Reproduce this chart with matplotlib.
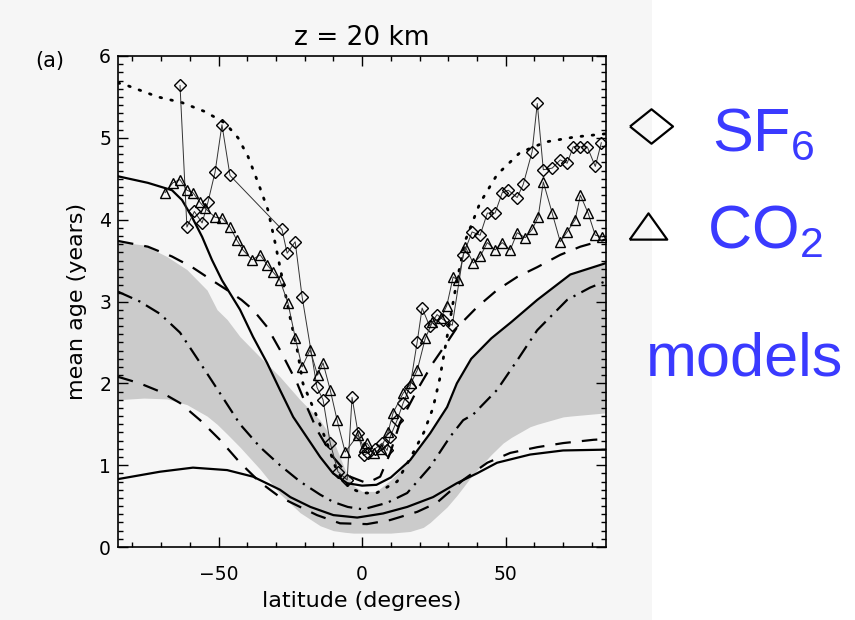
import numpy as np
import matplotlib
matplotlib.use("Agg")
import matplotlib.pyplot as plt
from matplotlib.ticker import MultipleLocator
from matplotlib.lines import Line2D
from matplotlib.patches import Rectangle

# model curves (latitude, mean age in years)
dot_lat = [-85, -82.6, -71.1, -62.7, -54.7, -47.7, -43.2, -39.7, -36.2, -32.8, -30.3, -27.9,
           -25.1, -22.6, -20.6, -15.7, -12.2, -8.7, -4.2, 0, 5, 12.2, 17, 21.5, 24.7, 27,
           29, 31, 33, 36, 41, 47, 55, 64, 74, 85]
dot_age = [5.67, 5.65, 5.50, 5.43, 5.32, 5.18, 5.00, 4.77, 4.45, 4.12, 3.72, 3.30,
           2.81, 2.41, 2.00, 1.59, 1.27, 0.92, 0.72, 0.66, 0.66, 0.80, 1.10, 1.40, 1.70, 2.05,
           2.45, 2.85, 3.25, 3.75, 4.20, 4.55, 4.82, 4.95, 5.01, 5.05]

solid1_lat = [-85, -74.6, -66.2, -62.7, -59.2, -55.7, -52.3, -48.8, -45.3, -42.5, -38, -33.1,
              -28.6, -24, -19.2, -14.6, -10.1, -5.2, 0, 5, 10, 16.7, 23.7, 29.6, 33, 38,
              45, 52, 61, 72.5, 85]
solid1_age = [4.53, 4.45, 4.36, 4.24, 4.03, 3.79, 3.51, 3.26, 3.06, 2.90, 2.57, 2.25,
              1.92, 1.59, 1.34, 1.10, 0.90, 0.78, 0.75, 0.76, 0.85, 1.06, 1.39, 1.71, 2.00, 2.30,
              2.55, 2.75, 3.02, 3.33, 3.47]

dash1_lat = [-85, -74.6, -66.2, -59.2, -52.3, -47, -42, -38, -33.1, -28.6, -22.6, -19.2,
             -15.7, -10.1, -4.2, 1.7, 6.3, 9.8, 13.2, 19.2, 24.7, 29.6, 33, 40, 47, 54,
             61, 69, 76, 85]
dash1_age = [3.74, 3.67, 3.55, 3.42, 3.26, 3.14, 3.02, 2.90, 2.69, 2.41, 2.00, 1.71,
             1.43, 1.10, 0.86, 0.78, 0.86, 1.15, 1.52, 1.92, 2.25, 2.50, 2.68, 2.93, 3.14, 3.30,
             3.42, 3.57, 3.67, 3.76]

dashdot_lat = [-85, -77.4, -70.4, -63.4, -56.4, -49.5, -42.5, -35.5, -28.6, -21.6, -14.6, -10,
               -5, 0.3, 8.7, 15.7, 23.7, 30.7, 35.2, 38.7, 47, 54, 61, 71.4, 79.4, 85]
dashdot_age = [3.12, 3.00, 2.85, 2.62, 2.25, 1.88, 1.50, 1.22, 1.00, 0.80, 0.64, 0.55,
               0.49, 0.46, 0.54, 0.66, 0.98, 1.35, 1.55, 1.62, 1.92, 2.28, 2.65, 3.02, 3.17, 3.25]

dash2_lat = [-85, -77.4, -70.4, -63.4, -56.4, -49.5, -42.5, -35.5, -28.6, -21.6, -15.7, -7.7,
             1.7, 9.8, 19.2, 26, 35.2, 43.6, 51.6, 61, 70, 80.5, 85]
dash2_age = [2.08, 2.00, 1.90, 1.76, 1.55, 1.31, 1.03, 0.79, 0.61, 0.49, 0.39, 0.29,
             0.28, 0.33, 0.43, 0.54, 0.82, 1.03, 1.15, 1.22, 1.27, 1.31, 1.32]

solid2_lat = [-85, -70.4, -58.9, -47, -38, -28.6, -25, -18, -10, -1.7, 7.3, 15.7,
              24.7, 33, 40, 47, 58.5, 70, 85]
solid2_age = [0.83, 0.92, 0.97, 0.94, 0.86, 0.70, 0.61, 0.49, 0.39, 0.36, 0.41, 0.49,
              0.61, 0.78, 0.90, 1.03, 1.13, 1.18, 1.19]

# grey model spread
band_lat = [-85, -76, -68, -61, -54, -50.5, -47, -42.5, -35.5, -28.6, -21.6, -14.6, -10, -6,
            -3, 0, 5, 10, 16.7, 21.3, 23.7, 29.6, 33, 35.2, 38, 41.1, 45, 49.1, 52, 58.5,
            61, 70, 72.5, 85]
band_lo = [1.80, 1.82, 1.81, 1.74, 1.60, 1.50, 1.38, 1.22, 0.95, 0.65, 0.42, 0.26, 0.20, 0.18,
           0.17, 0.17, 0.17, 0.17, 0.19, 0.24, 0.30, 0.49, 0.63, 0.73, 0.86, 0.98, 1.13, 1.27,
           1.34, 1.47, 1.50, 1.59, 1.60, 1.64]
band_hi = [3.73, 3.69, 3.55, 3.39, 3.14, 2.90, 2.78, 2.57, 2.32, 2.08, 1.80, 1.55, 1.30, 0.95,
           0.75, 0.68, 0.68, 0.82, 1.06, 1.30, 1.39, 1.71, 2.00, 2.13, 2.30, 2.42, 2.55, 2.67,
           2.75, 2.95, 3.02, 3.27, 3.33, 3.47]

# observations
sf6_lat = [-63.4, -61.0, -58.4, -55.7, -53.7, -51.2, -48.8, -46.0, -27.9, -26.1, -23.3, -20.9,
           -15.7, -13.6, -11.1, -8.4, -5.2, -3.5, -1.4, 0.5, 2.1, 4.5, 7.0, 8.7, 9.8, 12.2,
           14.3, 16.7, 19.2, 20.9, 23.5, 26.1, 28.2, 31.4, 35.2, 38.3, 41.1, 43.6, 46.3, 48.8,
           50.9, 54.0, 56.1, 59.2, 61.0, 63.1, 66.2, 69.0, 71.4, 73.5, 76.0, 78.4, 81.2, 83.3]
sf6_age = [5.64, 3.91, 4.10, 3.96, 4.21, 4.58, 5.16, 4.54, 3.88, 3.59, 3.73, 3.06,
           1.95, 1.80, 1.27, 0.92, 0.82, 1.83, 1.39, 1.12, 1.15, 1.20, 1.27, 1.18, 1.35, 1.55,
           1.76, 1.96, 2.51, 2.92, 2.70, 2.84, 2.78, 2.71, 3.57, 3.85, 3.81, 4.08, 4.08, 4.33,
           4.36, 4.27, 4.43, 4.83, 5.42, 4.61, 4.63, 4.73, 4.69, 4.89, 4.89, 4.89, 4.65, 4.94]

co2_lat = [-68.6, -65.9, -63.4, -61.0, -58.9, -56.4, -54.7, -51.2, -48.8, -46.0, -43.6, -41.5,
           -38.3, -35.5, -33.1, -31.0, -28.6, -25.8, -23.3, -20.9, -18.1, -15.5, -13.6, -11.1,
           -8.7, -5.9, -1.4, 0.5, 1.7, 4.0, 6.5, 9.0, 10.8, 14.3, 17.0, 19.2, 22.0, 24.5,
           27.5, 29.5, 31.7, 33.4, 35.9, 38.7, 41.1, 43.6, 46.3, 48.8, 51.6, 54.0, 56.8, 59.2,
           61.3, 63.1, 66.2, 69.0, 71.4, 74.2, 76.0, 78.7, 81.2, 83.6]
co2_age = [4.33, 4.45, 4.49, 4.36, 4.33, 4.21, 4.14, 4.03, 4.02, 3.91, 3.75, 3.63,
           3.51, 3.57, 3.45, 3.36, 3.26, 2.98, 2.56, 2.20, 2.41, 2.10, 2.25, 1.92,
           1.55, 1.16, 1.37, 1.22, 1.27, 1.15, 1.20, 1.40, 1.64, 1.88, 2.00, 2.16, 2.55, 2.75,
           2.80, 2.95, 3.30, 3.26, 3.67, 3.47, 3.55, 3.72, 3.63, 3.72, 3.63, 3.84, 3.78, 3.88,
           4.03, 4.46, 4.08, 3.73, 3.85, 4.00, 4.30, 4.08, 3.81, 3.79]

fig = plt.figure(figsize=(8.55, 6.2), dpi=100)
# scanned panel background
fig.add_artist(Rectangle((0, 0), 0.7626, 1, transform=fig.transFigure,
                         facecolor="#f6f6f6", edgecolor="none", zorder=0))
ax = fig.add_axes([0.138, 0.1177, 0.571, 0.792])
ax.set_facecolor("none")

ax.fill_between(band_lat, band_lo, band_hi, color="#cbcbcb", lw=0, zorder=1)

ax.plot(dot_lat, dot_age, color="k", lw=2.0, linestyle=(0, (0.6, 3.4)),
        dash_capstyle="round", zorder=3)
ax.plot(solid1_lat, solid1_age, color="k", lw=1.6, zorder=3)
ax.plot(dash1_lat, dash1_age, color="k", lw=1.6, linestyle=(0, (7, 5)), zorder=3)
ax.plot(dashdot_lat, dashdot_age, color="k", lw=1.6, linestyle=(0, (7, 3, 1, 3)), zorder=3)
ax.plot(dash2_lat, dash2_age, color="k", lw=1.6, linestyle=(0, (7, 5)), zorder=3)
ax.plot(solid2_lat, solid2_age, color="k", lw=1.6, zorder=3)

ax.plot(sf6_lat, sf6_age, color="#333333", lw=0.7, marker="D", ms=6.5,
        mfc="none", mec="k", mew=1.0, zorder=4)
ax.plot(co2_lat, co2_age, color="#333333", lw=0.7, marker="^", ms=7.5,
        mfc="none", mec="k", mew=1.0, zorder=4)

ax.set_xlim(-85, 85)
ax.set_ylim(0, 6)
ax.xaxis.set_major_locator(MultipleLocator(50))
ax.xaxis.set_minor_locator(MultipleLocator(10))
ax.yaxis.set_major_locator(MultipleLocator(1))
ax.yaxis.set_minor_locator(MultipleLocator(0.1))
ax.tick_params(which="both", direction="in", top=True, right=True, width=1.0)
ax.tick_params(which="major", length=7)
ax.tick_params(which="minor", length=3.5)
ax.tick_params(axis="x", labelsize=13.5, pad=13)
ax.tick_params(axis="y", labelsize=13.5, pad=5)
for s in ax.spines.values():
    s.set_linewidth(1.2)

ax.set_xlabel("latitude (degrees)", fontsize=16, labelpad=5)
ax.set_ylabel("mean age (years)", fontsize=16, labelpad=9)
ax.set_title("z = 20 km", fontsize=19, pad=8)
fig.text(0.058, 0.902, "(a)", fontsize=15, ha="center", va="center")

# legend drawn beside the panel
diamond = [(-1, 0), (0, 0.8), (1, 0), (0, -0.8), (-1, 0)]
triangle = [(-1, -0.7), (1, -0.7), (0, 0.7), (-1, -0.7)]
fig.add_artist(Line2D([651 / 855], [1 - 125.5 / 620], transform=fig.transFigure,
                      marker=diamond, ms=31, mfc="none", mec="k", mew=1.6, ls="none"))
fig.add_artist(Line2D([647.5 / 855], [1 - 225.5 / 620], transform=fig.transFigure,
                      marker=triangle, ms=27, mfc="none", mec="k", mew=1.6, ls="none"))

plt.rcParams["mathtext.fontset"] = "custom"
plt.rcParams["mathtext.rm"] = "Liberation Sans"
blue = "#3a3aff"
fig.text(712 / 855, 1 - 151 / 620, r"SF$_\mathregular{6}$", fontsize=44, color=blue,
         family="Liberation Sans", ha="left", va="baseline")
fig.text(707 / 855, 1 - 248 / 620, r"CO$_\mathregular{2}$", fontsize=44, color=blue,
         family="Liberation Sans", ha="left", va="baseline")
fig.text(646 / 855, 1 - 375 / 620, "models", fontsize=44, color=blue,
         family="Liberation Sans", ha="left", va="baseline")

plt.savefig("out.png", dpi=100)
